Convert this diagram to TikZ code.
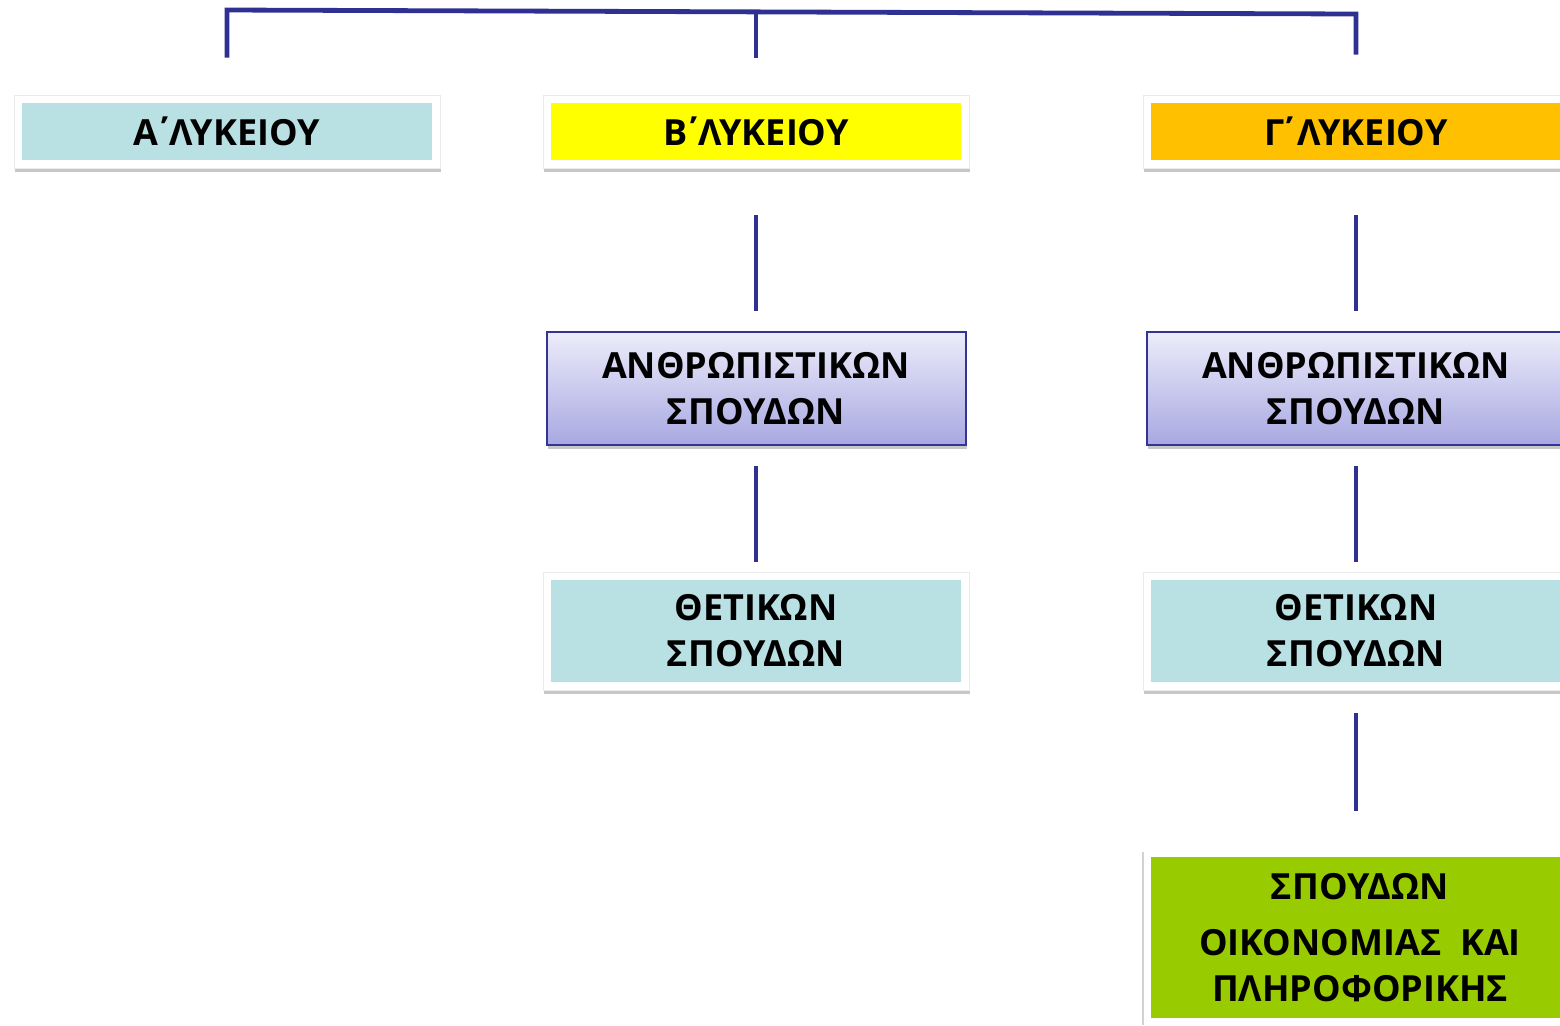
\documentclass[tikz,border=0pt]{standalone}
\usepackage{fontspec}
\setmainfont{Open Sans}
\usepackage{xcolor}
\usetikzlibrary{shadows}
\definecolor{linkblue}{RGB}{46,49,146}
\definecolor{tealfill}{RGB}{185,224,227}
\definecolor{yellowfill}{RGB}{255,255,0}
\definecolor{orangefill}{RGB}{255,192,0}
\definecolor{greenfill}{RGB}{153,204,0}
\definecolor{lavtop}{RGB}{236,236,250}
\definecolor{lavbot}{RGB}{168,168,226}
\definecolor{lavedge}{RGB}{52,52,150}
\tikzset{
	conn/.style={draw=linkblue, line width=2.4pt},
	boxtext/.style={font=\fontsize{18}{23}\selectfont\bfseries, align=center, text=black, inner sep=0pt},
	boxshadow/.style={drop shadow={shadow xshift=0.6pt, shadow yshift=-2pt, opacity=0.22, fill=black}},
	framebox/.style={boxtext, boxshadow, fill=white, draw=black!8, line width=0.4pt, minimum width=213pt,
		path picture={\fill[#1] ([xshift=4pt,yshift=-4pt]path picture bounding box.north west) rectangle ([xshift=-4pt,yshift=4pt]path picture bounding box.south east);}},
	lvlbox/.style={framebox=#1, minimum height=36.5pt},
	thetbox/.style={framebox=tealfill, minimum height=59pt},
	anthbox/.style={boxtext, boxshadow, draw=lavedge, line width=1pt, top color=lavtop, bottom color=lavbot, minimum width=209.5pt, minimum height=56.5pt},
	oikbox/.style={boxtext, fill=greenfill, minimum width=209pt, minimum height=80.5pt}
}
\begin{document}
\begin{tikzpicture}[line cap=butt,line join=miter,x=0.5pt,y=-0.5pt]
	\useasboundingbox (0,0) rectangle (1560,1025);
	\clip (0,0) rectangle (1560,1025);
	% levels
	\node[lvlbox=tealfill] (lvA) at (227,131.5) {Α\kern-2.5pt΄\kern-2.5pt ΛΥΚΕΙΟΥ};
	\node[lvlbox=yellowfill] (lvB) at (756,131.5) {Β\kern-2.5pt΄\kern-2.5pt ΛΥΚΕΙΟΥ};
	\node[lvlbox=orangefill] (lvG) at (1356,131.5) {Γ\kern-3pt΄\kern-1pt ΛΥΚΕΙΟΥ};
	% B column
	\node[anthbox] (anB) at (756,388.5) {ΑΝΘΡΩΠΙΣΤΙΚΩΝ\\ΣΠΟΥΔΩΝ};
	\node[thetbox] (thB) at (756,631) {ΘΕΤΙΚΩΝ\\ΣΠΟΥΔΩΝ};
	% G column
	\node[anthbox] (anG) at (1356,388.5) {ΑΝΘΡΩΠΙΣΤΙΚΩΝ\\ΣΠΟΥΔΩΝ};
	\node[thetbox] (thG) at (1356,631) {ΘΕΤΙΚΩΝ\\ΣΠΟΥΔΩΝ};
	\node[oikbox] (oikG) at (1360,937.5) {ΣΠΟΥΔΩΝ\\[5pt]ΟΙΚΟΝΟΜΙΑΣ\ \ ΚΑΙ\\ΠΛΗΡΟΦΟΡΙΚΗΣ};
	\draw[gray!35, line width=0.6pt] (1143,852) -- (1143,1025);
	% top bracket
	\coordinate (topL) at (227,10);
	\coordinate (topM) at (756,12);
	\coordinate (topR) at (1356,14);
	\draw[conn] ([yshift=18.5pt]lvA.north) -- (topL) -- (topR) -- ([yshift=20pt]lvG.north);
	\draw[conn] (topM) -- ([yshift=18.5pt]lvB.north);
	% vertical links
	\draw[conn, shorten <=23.5pt, shorten >=10pt] (lvB) -- (anB);
	\draw[conn, shorten <=10pt, shorten >=5pt] (anB) -- (thB);
	\draw[conn, shorten <=23.5pt, shorten >=10pt] (lvG) -- (anG);
	\draw[conn, shorten <=10pt, shorten >=5pt] (anG) -- (thG);
	\draw[conn, shorten <=11.5pt, shorten >=23pt] (thG) -- (oikG.north -| thG);
\end{tikzpicture}
\end{document}
